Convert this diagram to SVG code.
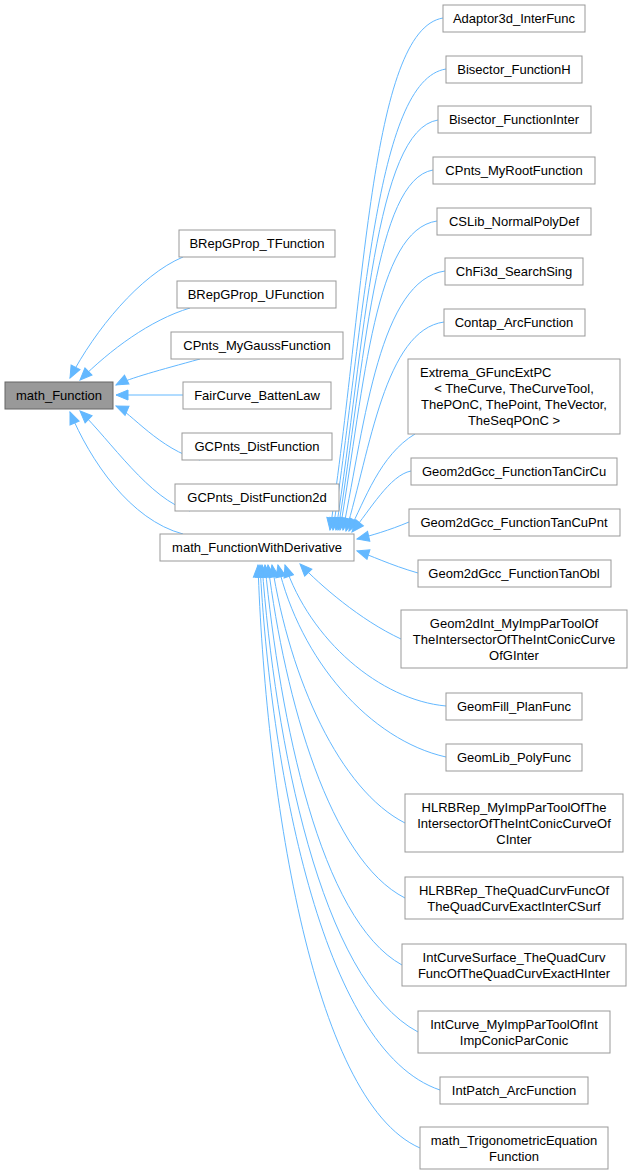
<svg xmlns="http://www.w3.org/2000/svg" width="633" height="1176" viewBox="0 0 633 1176">
<style>
.n rect{fill:#fff;stroke:#999;stroke-width:1}
.n.r rect{fill:#999;stroke:#666}
text{font-family:"Liberation Sans",Arial,sans-serif;font-size:13px;fill:#000;text-anchor:middle}
.e path{fill:none;stroke:#63b8ff;stroke-width:1;marker-end:url(#a)}
</style>
<defs><marker id="a" markerUnits="userSpaceOnUse" markerWidth="14" markerHeight="12" refX="13" refY="6" orient="auto"><path d="M1,1 L13,6 L1,11 Z" fill="#63b8ff" stroke="#63b8ff"/></marker></defs>
<rect width="633" height="1176" fill="#fff"/>
<g class="e">
<path d="M183,257 C140,275 95,330 70,378"/>
<path d="M190,308 C150,320 110,350 80,380"/>
<path d="M200,359 C160,370 130,378 116,385"/>
<path d="M183,395 L116,395"/>
<path d="M200,460 C160,450 130,412 116,406"/>
<path d="M190,511 C150,500 110,440 80,411"/>
<path d="M183,534 C130,520 90,460 70,412"/>
<path d="M443,18 C370,30 365,300 330,530"/>
<path d="M446,69 C375,80 365,320 333,530"/>
<path d="M438,120 C375,130 365,340 336,530"/>
<path d="M433,170 C375,180 365,360 338,530"/>
<path d="M437,221 C375,230 365,380 340,530"/>
<path d="M445,271 C380,280 365,420 343,530"/>
<path d="M444,322 C385,330 370,450 346,531"/>
<path d="M415,434 C380,455 365,500 349,531"/>
<path d="M411,471 C390,475 370,510 352,532"/>
<path d="M409,522 C390,530 370,536 357,539"/>
<path d="M418,573 C390,565 370,555 357,551"/>
<path d="M401,639 C360,620 320,585 300,564"/>
<path d="M446,706 C380,700 310,640 285,565"/>
<path d="M446,757 C370,740 300,660 278,565"/>
<path d="M405,823 C340,790 290,680 272,565"/>
<path d="M405,898 C330,860 285,700 268,565"/>
<path d="M402,965 C320,920 280,720 265,565"/>
<path d="M418,1032 C320,980 275,740 262,565"/>
<path d="M440,1090 C320,1050 270,760 260,565"/>
<path d="M420,1148 C310,1100 265,780 258,565"/>
</g>
<g id="math_Function" class="n r"><rect x="5" y="382" width="108" height="27"/><text x="59" y="400">math_Function</text></g>
<g id="BRepGProp_TFunction" class="n"><rect x="179" y="230" width="156" height="27"/><text x="257" y="248">BRepGProp_TFunction</text></g>
<g id="BRepGProp_UFunction" class="n"><rect x="177" y="281" width="159" height="27"/><text x="256" y="299">BRepGProp_UFunction</text></g>
<g id="CPnts_MyGaussFunction" class="n"><rect x="171" y="332" width="172" height="27"/><text x="257" y="350">CPnts_MyGaussFunction</text></g>
<g id="FairCurve_BattenLaw" class="n"><rect x="183" y="382" width="148" height="27"/><text x="257" y="400">FairCurve_BattenLaw</text></g>
<g id="GCPnts_DistFunction" class="n"><rect x="182" y="433" width="150" height="27"/><text x="257" y="451">GCPnts_DistFunction</text></g>
<g id="GCPnts_DistFunction2d" class="n"><rect x="175" y="484" width="164" height="27"/><text x="257" y="502">GCPnts_DistFunction2d</text></g>
<g id="math_FunctionWithDerivative" class="n"><rect x="160" y="534" width="194" height="27"/><text x="257" y="552">math_FunctionWithDerivative</text></g>
<g id="Adaptor3d_InterFunc" class="n"><rect x="443" y="5" width="142" height="27"/><text x="514" y="23">Adaptor3d_InterFunc</text></g>
<g id="Bisector_FunctionH" class="n"><rect x="446" y="56" width="136" height="27"/><text x="514" y="74">Bisector_FunctionH</text></g>
<g id="Bisector_FunctionInter" class="n"><rect x="438" y="106" width="153" height="27"/><text x="514" y="124">Bisector_FunctionInter</text></g>
<g id="CPnts_MyRootFunction" class="n"><rect x="433" y="157" width="162" height="27"/><text x="514" y="175">CPnts_MyRootFunction</text></g>
<g id="CSLib_NormalPolyDef" class="n"><rect x="437" y="208" width="154" height="27"/><text x="514" y="226">CSLib_NormalPolyDef</text></g>
<g id="ChFi3d_SearchSing" class="n"><rect x="445" y="258" width="138" height="27"/><text x="514" y="276">ChFi3d_SearchSing</text></g>
<g id="Contap_ArcFunction" class="n"><rect x="444" y="309" width="141" height="27"/><text x="514" y="327">Contap_ArcFunction</text></g>
<g id="Extrema_GFuncExtPC" class="n"><rect x="408" y="359" width="212" height="75"/><text x="420" y="377" style="text-anchor:start">Extrema_GFuncExtPC</text><text x="514" y="393">&lt; TheCurve, TheCurveTool,</text><text x="514" y="409">ThePOnC, ThePoint, TheVector,</text><text x="514" y="425">TheSeqPOnC &gt;</text></g>
<g id="Geom2dGcc_FunctionTanCirCu" class="n"><rect x="411" y="458" width="206" height="27"/><text x="514" y="476">Geom2dGcc_FunctionTanCirCu</text></g>
<g id="Geom2dGcc_FunctionTanCuPnt" class="n"><rect x="409" y="509" width="211" height="27"/><text x="514" y="527">Geom2dGcc_FunctionTanCuPnt</text></g>
<g id="Geom2dGcc_FunctionTanObl" class="n"><rect x="418" y="560" width="193" height="27"/><text x="514" y="578">Geom2dGcc_FunctionTanObl</text></g>
<g id="Geom2dInt" class="n"><rect x="401" y="610" width="226" height="58"/><text x="514" y="628">Geom2dInt_MyImpParToolOf</text><text x="514" y="644">TheIntersectorOfTheIntConicCurve</text><text x="514" y="660">OfGInter</text></g>
<g id="GeomFill_PlanFunc" class="n"><rect x="446" y="693" width="136" height="27"/><text x="514" y="711">GeomFill_PlanFunc</text></g>
<g id="GeomLib_PolyFunc" class="n"><rect x="446" y="744" width="136" height="27"/><text x="514" y="762">GeomLib_PolyFunc</text></g>
<g id="HLRBRep_MyImp" class="n"><rect x="405" y="794" width="218" height="58"/><text x="514" y="812">HLRBRep_MyImpParToolOfThe</text><text x="514" y="828">IntersectorOfTheIntConicCurveOf</text><text x="514" y="844">CInter</text></g>
<g id="HLRBRep_TheQuad" class="n"><rect x="405" y="877" width="218" height="42"/><text x="514" y="895">HLRBRep_TheQuadCurvFuncOf</text><text x="514" y="911">TheQuadCurvExactInterCSurf</text></g>
<g id="IntCurveSurface_TheQuad" class="n"><rect x="402" y="944" width="224" height="42"/><text x="514" y="962">IntCurveSurface_TheQuadCurv</text><text x="514" y="978">FuncOfTheQuadCurvExactHInter</text></g>
<g id="IntCurve_MyImp" class="n"><rect x="418" y="1011" width="192" height="42"/><text x="514" y="1029">IntCurve_MyImpParToolOfInt</text><text x="514" y="1045">ImpConicParConic</text></g>
<g id="IntPatch_ArcFunction" class="n"><rect x="440" y="1077" width="148" height="27"/><text x="514" y="1095">IntPatch_ArcFunction</text></g>
<g id="math_Trig" class="n"><rect x="420" y="1127" width="188" height="42"/><text x="514" y="1145">math_TrigonometricEquation</text><text x="514" y="1161">Function</text></g>
</svg>
